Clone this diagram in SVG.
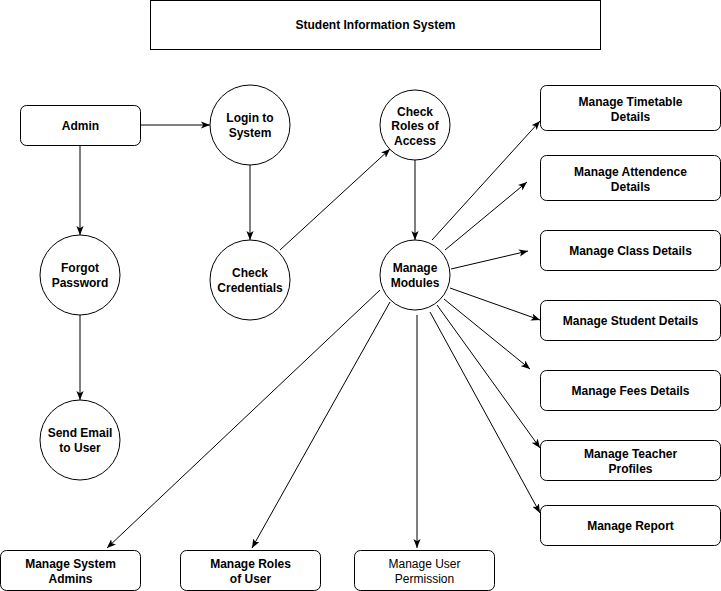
<svg xmlns="http://www.w3.org/2000/svg" width="721" height="591" viewBox="0 0 721 591">
<defs>
<style>
.box{fill:#fff;stroke:#000;stroke-width:1}
.c{fill:#fff;stroke:#000;stroke-width:1}
.t{font-family:"Liberation Sans",Arial,sans-serif;font-size:12px;font-weight:bold;text-anchor:middle;fill:#000}
.n{font-weight:normal}
.e{fill:none;stroke:#000;stroke-width:1;marker-end:url(#arr)}
</style>
<marker id="arr" viewBox="0 0 10 8" refX="10" refY="4" markerWidth="9" markerHeight="7.5" markerUnits="userSpaceOnUse" orient="auto">
<path d="M0,0 L10,4 L0,8 L2.5,4 Z" fill="#000"/>
</marker>
</defs>
<rect width="721" height="591" fill="#fff"/>
<g id="title"><rect class="box" x="150.5" y="0.5" width="450" height="49"/><text class="t" x="375.5" y="29">Student Information System</text></g>
<g id="connectors">
<line class="e" x1="140" y1="125" x2="210" y2="125"/>
<line class="e" x1="80" y1="145" x2="80" y2="235"/>
<line class="e" x1="80" y1="315" x2="80" y2="400"/>
<line class="e" x1="250" y1="165" x2="250" y2="240"/>
<line class="e" x1="280" y1="250" x2="390" y2="149"/>
<line class="e" x1="415" y1="160" x2="415" y2="240"/>
<line class="e" x1="432" y1="240" x2="540" y2="121"/>
<line class="e" x1="445" y1="250" x2="527" y2="182"/>
<line class="e" x1="451" y1="269" x2="528" y2="251"/>
<line class="e" x1="450" y1="288" x2="540" y2="320"/>
<line class="e" x1="444" y1="299" x2="530" y2="369"/>
<line class="e" x1="437" y1="305" x2="540" y2="448"/>
<line class="e" x1="430" y1="312" x2="540" y2="513"/>
<line class="e" x1="417" y1="315" x2="417" y2="548"/>
<line class="e" x1="390" y1="302" x2="252" y2="548"/>
<line class="e" x1="380" y1="290" x2="107" y2="548"/>
</g>
<g id="admin"><rect class="box" x="20.5" y="105.5" width="120" height="40" rx="6"/><text class="t" x="80.5" y="130">Admin</text></g>
<g id="login"><circle class="c" cx="250" cy="125" r="40"/><text class="t" x="250" y="122">Login to</text><text class="t" x="250" y="137">System</text></g>
<g id="checkcred"><circle class="c" cx="250" cy="280" r="40"/><text class="t" x="250" y="277">Check</text><text class="t" x="250" y="292">Credentials</text></g>
<g id="forgot"><circle class="c" cx="80" cy="275" r="40"/><text class="t" x="80" y="272">Forgot</text><text class="t" x="80" y="287">Password</text></g>
<g id="sendemail"><circle class="c" cx="80" cy="440" r="40"/><text class="t" x="80" y="437">Send Email</text><text class="t" x="80" y="452">to User</text></g>
<g id="checkroles"><circle class="c" cx="415" cy="125" r="35"/><text class="t" x="415" y="116">Check</text><text class="t" x="415" y="130">Roles of</text><text class="t" x="415" y="145">Access</text></g>
<g id="modules"><circle class="c" cx="415" cy="275" r="35"/><text class="t" x="415" y="272">Manage</text><text class="t" x="415" y="287">Modules</text></g>
<g id="timetable"><rect class="box" x="540.5" y="85.5" width="180" height="45" rx="6"/><text class="t" x="630.5" y="106">Manage Timetable</text><text class="t" x="630.5" y="121">Details</text></g>
<g id="attendence"><rect class="box" x="540.5" y="155.5" width="180" height="45" rx="6"/><text class="t" x="630.5" y="176">Manage Attendence</text><text class="t" x="630.5" y="191">Details</text></g>
<g id="class"><rect class="box" x="540.5" y="230.5" width="180" height="40" rx="6"/><text class="t" x="630.5" y="255">Manage Class Details</text></g>
<g id="student"><rect class="box" x="540.5" y="300.5" width="180" height="40" rx="6"/><text class="t" x="630.5" y="325">Manage Student Details</text></g>
<g id="fees"><rect class="box" x="540.5" y="370.5" width="180" height="40" rx="6"/><text class="t" x="630.5" y="395">Manage Fees Details</text></g>
<g id="teacher"><rect class="box" x="540.5" y="440.5" width="180" height="40" rx="6"/><text class="t" x="630.5" y="458">Manage Teacher</text><text class="t" x="630.5" y="473">Profiles</text></g>
<g id="report"><rect class="box" x="540.5" y="505.5" width="180" height="40" rx="6"/><text class="t" x="630.5" y="530">Manage Report</text></g>
<g id="sysadmins"><rect class="box" x="0.5" y="550.5" width="140" height="40" rx="6"/><text class="t" x="70.5" y="568">Manage System</text><text class="t" x="70.5" y="583">Admins</text></g>
<g id="roles"><rect class="box" x="180.5" y="550.5" width="140" height="40" rx="6"/><text class="t" x="250.5" y="568">Manage Roles</text><text class="t" x="250.5" y="583">of User</text></g>
<g id="permission"><rect class="box" x="354.5" y="550.5" width="140" height="40" rx="6"/><text class="t n" x="424.5" y="568">Manage User</text><text class="t n" x="424.5" y="583">Permission</text></g>
</svg>
